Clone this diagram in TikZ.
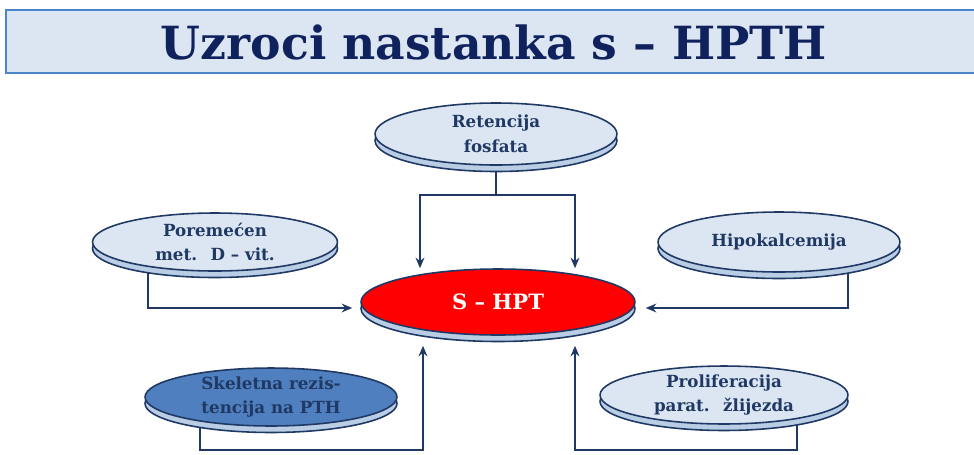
\documentclass[tikz,border=0pt]{standalone}
\usepackage{fontspec}
\setmainfont{DejaVu Serif}
\usetikzlibrary{shapes.geometric,arrows.meta,backgrounds}
\definecolor{navy}{HTML}{1F3864}
\definecolor{titlenavy}{HTML}{10225E}
\definecolor{facebl}{HTML}{DCE6F2}
\definecolor{rimbl}{HTML}{B9CDE5}
\definecolor{framebl}{HTML}{4A86C8}
\definecolor{darkbl}{HTML}{4F7FBE}
\tikzset{
  disk/.style={ellipse, draw=navy, line width=0.9pt, fill=facebl, inner sep=0pt,
    align=center, text=navy, font=\bfseries\fontsize{9.5}{14}\selectfont,
    preaction={draw=navy, line width=0.9pt, fill=rimbl, transform canvas={yshift=-0.13cm}}},
  link/.style={draw=navy, line width=1pt},
  arr/.style={link, -{Stealth[length=6pt,width=5pt]}}
}
\begin{document}
\begin{tikzpicture}[x=0.02cm,y=-0.02cm]
\useasboundingbox (0,0) rectangle (974,454);
% title
\draw[fill=facebl, draw=framebl, line width=1pt] (6,10) rectangle (990,73);
\node[text=titlenavy, font=\bfseries\fontsize{26}{30}\selectfont] (title) at (494,42) {Uzroci nastanka s – HPTH};
%
\node[disk, minimum width=4.84cm, minimum height=1.24cm] (ret) at (496,134) {Retencija\\fosfata};
\node[disk, minimum width=4.9cm, minimum height=1.16cm] (por) at (215,242) {Poremećen\\met.~ D – vit.};
\node[disk, minimum width=4.84cm, minimum height=1.2cm] (hipo) at (779,242) {Hipokalcemija};
\node[disk, fill=red, text=white, font=\bfseries\fontsize{12}{14}\selectfont,
  minimum width=5.48cm, minimum height=1.32cm] (hpt) at (498,302) {S – HPT};
\node[disk, fill=darkbl, minimum width=5.04cm, minimum height=1.08cm] (skel) at (271,397) {Skeletna rezis-\\tencija na PTH};
\node[disk, minimum width=4.96cm, minimum height=1.15cm] (prol) at (724,395) {Proliferacija\\parat.~ žlijezda};
%
\coordinate (tl) at (420,195);
\coordinate (tr) at (575,195);
\coordinate (ml) at (148,308);
\coordinate (mr) at (848,308);
\coordinate (bl1) at (200,450);
\coordinate (bl2) at (423,450);
\coordinate (br1) at (797,450);
\coordinate (br2) at (575,450);
%
\begin{scope}[on background layer]
\draw[arr] (ret.center) |- (tl) -- (tl |- hpt.north);
\draw[arr] (ret.center) |- (tr) -- (tr |- hpt.north);
\draw[arr] (ml |- por.center) -- (ml) -- ([xshift=-0.16cm]hpt.west |- ml);
\draw[arr] (mr |- hipo.center) -- (mr) -- ([xshift=0.2cm]hpt.east |- mr);
\draw[arr] (bl1 |- skel.center) -- (bl1) -- (bl2) -- ([yshift=-0.2cm]bl2 |- hpt.south);
\draw[arr] (br1 |- prol.center) -- (br1) -- (br2) -- ([yshift=-0.2cm]br2 |- hpt.south);
\end{scope}
%
\end{tikzpicture}
\end{document}
